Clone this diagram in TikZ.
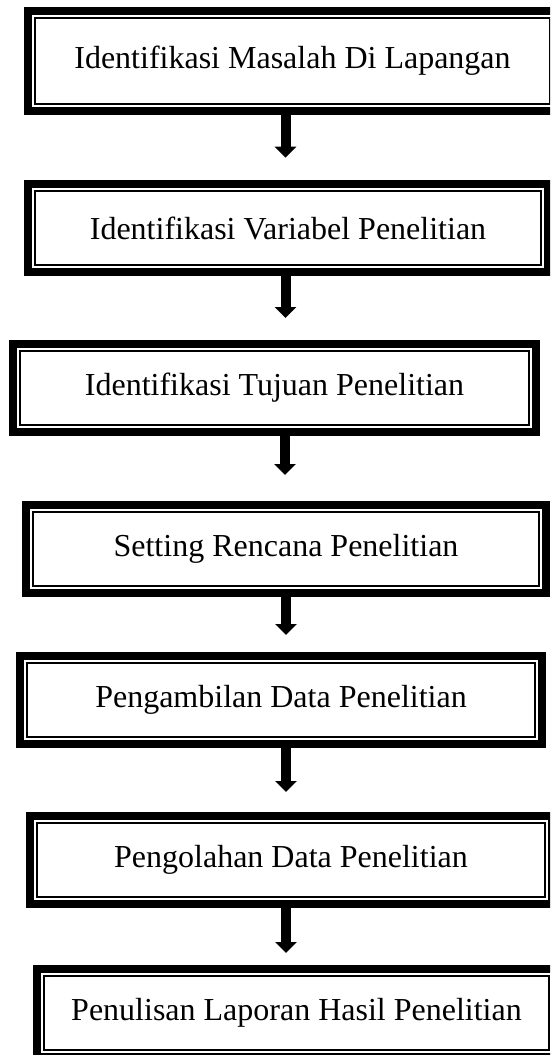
\documentclass[tikz,border=0pt]{standalone}
\usepackage{fontspec}
\setmainfont{Liberation Serif}
\usetikzlibrary{arrows.meta}
\begin{document}
\begin{tikzpicture}[x=1pt,y=-1pt,
  stepbox/.style={draw=black, line width=8pt, outer sep=0pt, inner sep=0pt,
    minimum height=88pt, font=\fontsize{32pt}{38pt}\selectfont},
  thinline/.style={draw=black, line width=1.6pt},
  arr/.style={line width=10pt, -{Triangle[width=21pt,length=11pt]}}]
\useasboundingbox (0,0) rectangle (550,1055);
\clip (0,0) rectangle (550,1055);

\node[stepbox, minimum width=529pt, minimum height=100pt] (b1) at (292.5,61) {Identifikasi Masalah Di Lapangan};
\node[stepbox, minimum width=520pt] (b2) at (288,228) {Identifikasi Variabel Penelitian};
\node[stepbox, minimum width=523pt] (b3) at (274.5,388) {Identifikasi Tujuan Penelitian};
\node[stepbox, minimum width=520pt] (b4) at (286,549) {Setting Rencana Penelitian};
\node[stepbox, minimum width=522pt] (b5) at (281,700) {Pengambilan Data Penelitian};
\node[stepbox, minimum width=522pt] (b6) at (291,860) {Pengolahan Data Penelitian};
\node[stepbox, minimum width=519pt] (b7) at (296.5,1013) {Penulisan Laporan Hasil Penelitian};

\foreach \b in {b1,b2,b3,b4,b5,b6,b7}{
  \draw[thinline] ([shift={(7.25pt,-7.25pt)}]\b.north west) rectangle ([shift={(-7.25pt,7.25pt)}]\b.south east);
}

\coordinate (t1) at (285.5,157.7);
\coordinate (t2) at (285.5,318);
\coordinate (t3) at (285,475);
\coordinate (t4) at (286,635);
\coordinate (t5) at (286,792);
\coordinate (t6) at (286,953);

\draw[arr] (t1 |- b1.south) -- (t1);
\draw[arr] (t2 |- b2.south) -- (t2);
\draw[arr] (t3 |- b3.south) -- (t3);
\draw[arr] (t4 |- b4.south) -- (t4);
\draw[arr] (t5 |- b5.south) -- (t5);
\draw[arr] (t6 |- b6.south) -- (t6);
\end{tikzpicture}
\end{document}
